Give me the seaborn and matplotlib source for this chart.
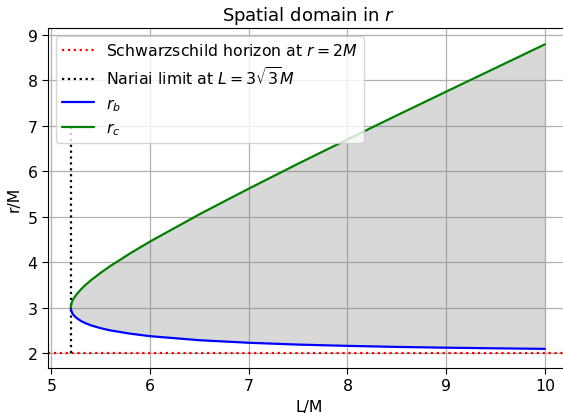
import numpy as np
import pandas as pd
import matplotlib
matplotlib.use("Agg")
import matplotlib.pyplot as plt
import seaborn as sns

# L/M values and the two horizon radii
L = [5.196, 5.197, 5.2, 5.205, 5.21, 5.22, 5.25, 5.3, 5.35, 5.4, 5.5, 5.6, 5.8, 6.0, 6.5,
     7.0, 7.5, 8.0, 8.5, 9.0, 9.5, 10.0]
r_b = [3.0, 2.975, 2.936, 2.905, 2.880, 2.845, 2.777, 2.703, 2.651, 2.609, 2.545, 2.496,
       2.425, 2.370, 2.281, 2.225, 2.185, 2.157, 2.134, 2.117, 2.103, 2.091]
r_c = [3.0, 3.026, 3.069, 3.105, 3.134, 3.182, 3.278, 3.403, 3.507, 3.600, 3.767, 3.918,
       4.195, 4.453, 5.052, 5.616, 6.165, 6.699, 7.227, 7.750, 8.270, 8.790]

r_schw = 2.0
L_nariai = 5.196
nariai_top = 7.0

df = pd.DataFrame({"L": L, "r_b": r_b, "r_c": r_c})

sns.set_style("ticks")
plt.rcParams["font.family"] = ["DejaVu Sans"]
plt.rcParams["text.color"] = "black"
plt.rcParams["axes.labelcolor"] = "black"
fs = 11.3

fig = plt.figure(figsize=(5.63, 4.14), dpi=100)
ax = fig.add_axes([48 / 563, 45 / 414, 521.5 / 563, 340 / 414])

ax.axhline(r_schw, color="red", linestyle=":", linewidth=1.6,
           label=r"Schwarzschild horizon at $r=2M$")
ax.vlines(L_nariai, r_schw, nariai_top, color="black", linestyle=":", linewidth=1.6,
          label=r"Nariai limit at $L=3\sqrt{3}M$")
sns.lineplot(data=df, x="L", y="r_b", color="blue", label=r"$r_b$", ax=ax, linewidth=1.6)
sns.lineplot(data=df, x="L", y="r_c", color="green", label=r"$r_c$", ax=ax, linewidth=1.6)
ax.fill_between(df["L"], df["r_b"], df["r_c"], color="gray", alpha=0.3, linewidth=0)

ax.set_xlim(4.965, 10.25)
ax.set_ylim(1.67, 9.15)
ax.grid(True, color="#b0b0b0", linewidth=0.9)
ax.set_xlabel("L/M", fontsize=fs, color="black")
ax.set_ylabel("r/M", fontsize=fs, color="black")
ax.set_title(r"Spatial domain in $r$", fontsize=13, color="black")
ax.legend(loc="upper left", fontsize=fs)
for s in ax.spines.values():
    s.set_color("black")
ax.tick_params(colors="black", direction="out", length=4, labelsize=fs)

fig.savefig("out.png", dpi=100)
